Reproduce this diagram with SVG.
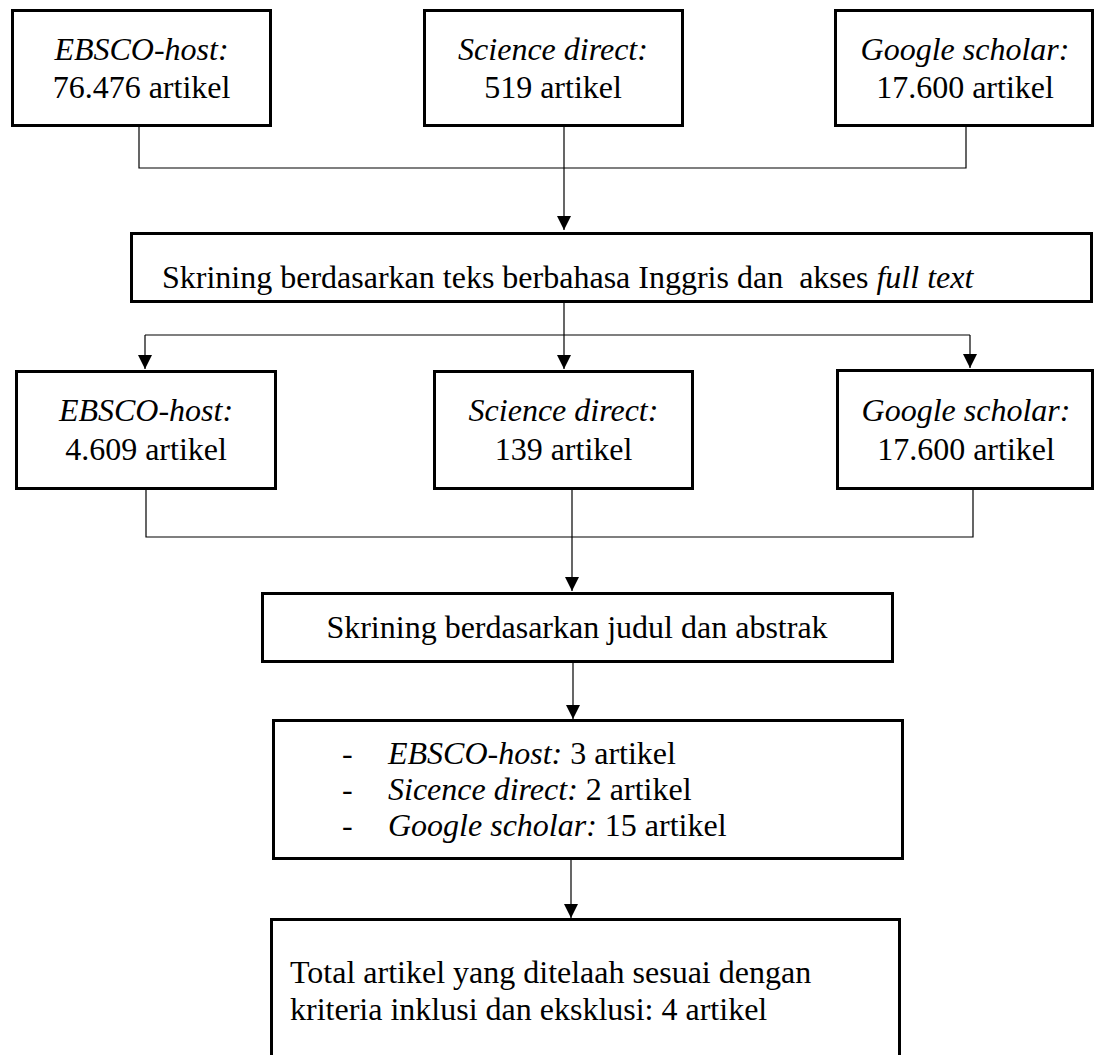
<svg xmlns="http://www.w3.org/2000/svg" width="1095" height="1055" viewBox="0 0 1095 1055">
<style>
.box{fill:#fff;stroke:#000;stroke-width:3}
.t{font-family:"Liberation Serif","Times New Roman",serif;font-size:32px;fill:#000}
.c{text-anchor:middle}
.i{font-style:italic}
.ln{fill:none;stroke:#000;stroke-width:1.2}
</style>
<defs>
<marker id="arr" viewBox="0 0 14 14" markerWidth="14" markerHeight="14" refX="14" refY="7" orient="auto" markerUnits="userSpaceOnUse">
<path d="M0,0 L14,7 L0,14 z" fill="#000"/>
</marker>
</defs>
<rect width="1095" height="1055" fill="#fff"/>
<g id="connectors">
<polyline class="ln" points="139,127 139,168 966,168 966,127"/>
<line class="ln" x1="564" y1="127" x2="564" y2="230" marker-end="url(#arr)"/>
<line class="ln" x1="564" y1="303" x2="564" y2="335"/>
<line class="ln" x1="145" y1="335" x2="970" y2="335"/>
<line class="ln" x1="145" y1="335" x2="145" y2="369" marker-end="url(#arr)"/>
<line class="ln" x1="564" y1="335" x2="564" y2="369" marker-end="url(#arr)"/>
<line class="ln" x1="970" y1="335" x2="970" y2="368" marker-end="url(#arr)"/>
<polyline class="ln" points="146,490 146,537 973,537 973,490"/>
<line class="ln" x1="572" y1="490" x2="572" y2="591" marker-end="url(#arr)"/>
<line class="ln" x1="573" y1="662" x2="573" y2="719" marker-end="url(#arr)"/>
<line class="ln" x1="571" y1="859" x2="571" y2="918" marker-end="url(#arr)"/>
</g>
<g id="n1">
<rect class="box" x="12.5" y="10.5" width="258" height="115"/>
<text class="t c i" x="141.5" y="60">EBSCO-host:</text>
<text class="t c" x="141.5" y="98">76.476 artikel</text>
</g>
<g id="n2">
<rect class="box" x="424.5" y="10.5" width="258" height="115"/>
<text class="t c i" x="553" y="60">Science direct:</text>
<text class="t c" x="553" y="98">519 artikel</text>
</g>
<g id="n3">
<rect class="box" x="835.5" y="10.5" width="257" height="115"/>
<text class="t c i" x="965" y="60">Google scholar:</text>
<text class="t c" x="965" y="98">17.600 artikel</text>
</g>
<g id="n4">
<rect class="box" x="131.5" y="233.5" width="960" height="68"/>
<text class="t" x="162" y="288" xml:space="preserve">Skrining berdasarkan teks berbahasa Inggris dan  akses <tspan class="i">full text</tspan></text>
</g>
<g id="n5">
<rect class="box" x="16.5" y="371.5" width="259" height="117"/>
<text class="t c i" x="146" y="421">EBSCO-host:</text>
<text class="t c" x="146" y="460">4.609 artikel</text>
</g>
<g id="n6">
<rect class="box" x="434.5" y="371.5" width="258" height="117"/>
<text class="t c i" x="563.5" y="421">Science direct:</text>
<text class="t c" x="563.5" y="460">139 artikel</text>
</g>
<g id="n7">
<rect class="box" x="837.5" y="370.5" width="255" height="118"/>
<text class="t c i" x="966" y="421">Google scholar:</text>
<text class="t c" x="966" y="460">17.600 artikel</text>
</g>
<g id="n8">
<rect class="box" x="262.5" y="593.5" width="630" height="68"/>
<text class="t c" x="577" y="638">Skrining berdasarkan judul dan abstrak</text>
</g>
<g id="n9">
<rect class="box" x="273.5" y="720.5" width="629" height="138"/>
<text class="t" x="342" y="764">-</text>
<text class="t" x="388" y="764"><tspan class="i">EBSCO-host:</tspan> 3 artikel</text>
<text class="t" x="342" y="800">-</text>
<text class="t" x="388" y="800"><tspan class="i">Sicence direct:</tspan> 2 artikel</text>
<text class="t" x="342" y="836">-</text>
<text class="t" x="388" y="836"><tspan class="i">Google scholar:</tspan> 15 artikel</text>
</g>
<g id="n10">
<rect class="box" x="271.5" y="919.5" width="628" height="150"/>
<text class="t" x="290" y="983">Total artikel yang ditelaah sesuai dengan</text>
<text class="t" x="290" y="1020">kriteria inklusi dan eksklusi: 4 artikel</text>
</g>
</svg>
